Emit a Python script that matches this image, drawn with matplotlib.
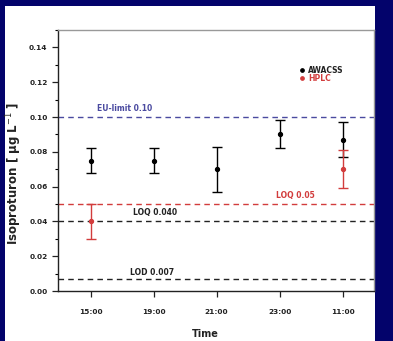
import matplotlib.pyplot as plt
from matplotlib.patches import Rectangle
from matplotlib.ticker import MultipleLocator

# data
times = ["15:00", "19:00", "21:00", "23:00", "11:00"]
awacss_val = [0.075, 0.075, 0.070, 0.090, 0.087]
awacss_lo = [0.068, 0.068, 0.057, 0.082, 0.077]
awacss_hi = [0.082, 0.082, 0.083, 0.098, 0.097]
hplc_idx = [0, 4]
hplc_val = [0.040, 0.070]
hplc_lo = [0.030, 0.059]
hplc_hi = [0.050, 0.081]

limit_names = ["EU-limit 0.10", "LOQ 0.05", "LOQ 0.040", "LOD 0.007"]
limit_values = [0.10, 0.05, 0.040, 0.007]

NAVY = "#03036b"
RED = "#d23c3c"
limit_colors = ["#4a4aa0", RED, "#222222", "#222222"]
label_pos = [(1.1, 0.1025), (3.94, 0.0525), (1.67, 0.0425), (1.62, 0.0082)]

fig = plt.figure(figsize=(3.93, 3.41), dpi=100, facecolor=NAVY)
fig.patches.append(Rectangle((5 / 393, 0), 370 / 393, 335 / 341,
                             transform=fig.transFigure, facecolor="white",
                             edgecolor="none", zorder=-10))

ax = fig.add_axes([58 / 393, 50 / 341, 316 / 393, 261 / 341])
ax.set_facecolor("white")

xs = list(range(1, len(times) + 1))

for val, name, col, (lx, ly) in zip(limit_values, limit_names, limit_colors, label_pos):
    ax.axhline(val, color=col, linestyle=(0, (4, 3)), linewidth=1.0, zorder=1)
    ax.text(lx, ly, name, color=col, fontsize=5.5, fontweight="bold",
            ha="left", va="bottom")

ax.errorbar(xs, awacss_val,
            yerr=[[v - l for v, l in zip(awacss_val, awacss_lo)],
                  [h - v for v, h in zip(awacss_val, awacss_hi)]],
            fmt="o", color="black", markersize=2.8, capsize=3.5,
            elinewidth=1.0, capthick=1.0, zorder=3)

hx = [xs[i] for i in hplc_idx]
ax.errorbar(hx, hplc_val,
            yerr=[[v - l for v, l in zip(hplc_val, hplc_lo)],
                  [h - v for v, h in zip(hplc_val, hplc_hi)]],
            fmt="o", color=RED, markersize=2.8, capsize=3.5,
            elinewidth=1.0, capthick=1.0, zorder=3)

# legend as text, like the original
ax.plot([4.35], [0.1268], "o", color="black", markersize=2.4, clip_on=False)
ax.text(4.45, 0.1268, "AWACSS", color="#222222", fontsize=5.5, fontweight="bold",
        va="center")
ax.plot([4.35], [0.1224], "o", color=RED, markersize=2.4, clip_on=False)
ax.text(4.45, 0.1224, "HPLC", color=RED, fontsize=5.5, fontweight="bold",
        va="center")

ax.set_xlim(0.48, 5.5)
ax.set_ylim(0, 0.15)
ax.set_xticks(xs)
ax.set_xticklabels(times)
ax.yaxis.set_minor_locator(MultipleLocator(0.01))
ax.set_yticks([0, 0.02, 0.04, 0.06, 0.08, 0.10, 0.12, 0.14])
ax.set_yticklabels(["0.00", "0.02", "0.04", "0.06", "0.08", "0.10", "0.12", "0.14"])

ax.tick_params(axis="both", direction="out", length=4, width=0.9,
               labelsize=5.3, colors="#222222")
ax.tick_params(axis="x", pad=9)
ax.tick_params(axis="y", which="minor", length=2.5, width=0.8)
for lab in ax.get_xticklabels() + ax.get_yticklabels():
    lab.set_fontweight("bold")

ax.spines["left"].set_color("#222222")
ax.spines["bottom"].set_color("#222222")
ax.spines["top"].set_color("#999999")
ax.spines["right"].set_color("#999999")
for s in ax.spines.values():
    s.set_linewidth(1.0)

ax.set_ylabel("Isoproturon [ µg L$^{-1}$ ]", fontsize=8.5, fontweight="bold",
              color="#222222")
ax.yaxis.set_label_coords(-0.108, 0.45)
ax.set_xlabel("Time", fontsize=7, fontweight="bold", color="#222222")
ax.xaxis.set_label_coords(0.465, -0.145)

fig.savefig("out.png", dpi=100, facecolor=NAVY)
